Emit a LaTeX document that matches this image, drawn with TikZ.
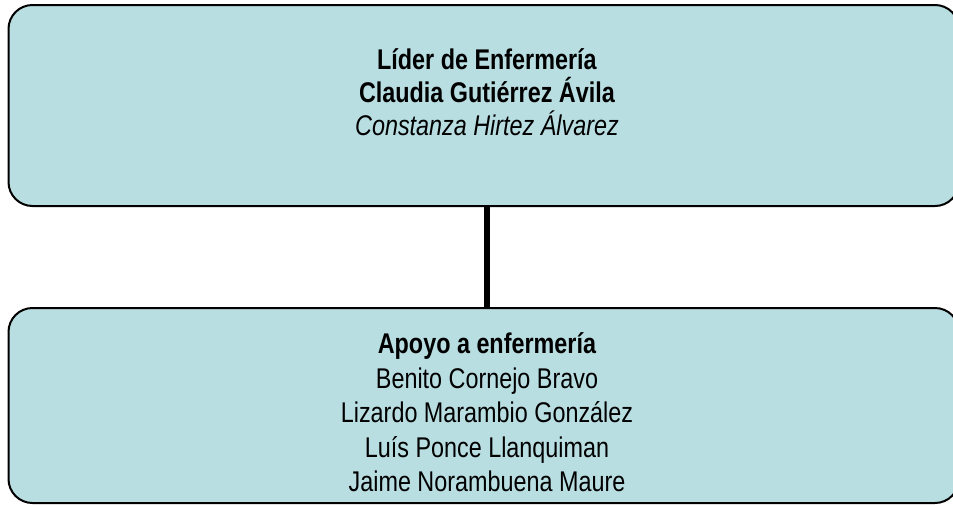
\documentclass[tikz,border=0pt]{standalone}
\usepackage{fontspec}
\setmainfont{Liberation Sans}[FakeStretch=0.82]
\usetikzlibrary{positioning}
\definecolor{caja}{RGB}{184, 222, 226}

\begin{document}
\begin{tikzpicture}[x=1pt,y=-1pt]
\useasboundingbox (0,0) rectangle (953,504);
\tikzset{cajon/.style={shape=rectangle,rounded corners=24pt,draw=black,line width=2pt,fill=caja,minimum width=950.5pt},
         texto/.style={anchor=north,inner sep=0pt,align=center}}

\node[cajon,minimum height=201pt] (lider) at (483.75,105.5) {};
\node[cajon,minimum height=195pt] (apoyo) at (483.75,405.5) {};

\node[texto,font=\fontsize{28.5}{33}\selectfont] (lidertxt) at (487,48.5) {\textbf{Líder de Enfermería}\\ \textbf{Claudia Gutiérrez Ávila}\\ \textit{Constanza Hirtez Álvarez}};
\node[texto,font=\fontsize{28.5}{34.5}\selectfont] (apoyotxt) at (487,332.5) {\textbf{Apoyo a enfermería}\\ Benito Cornejo Bravo\\ Lizardo Marambio González\\ Luís Ponce Llanquiman\\ Jaime Norambuena Maure};

\draw[line width=5.5pt] (lider.south -| lidertxt.center) -- (apoyo.north -| lidertxt.center);
\end{tikzpicture}
\end{document}
